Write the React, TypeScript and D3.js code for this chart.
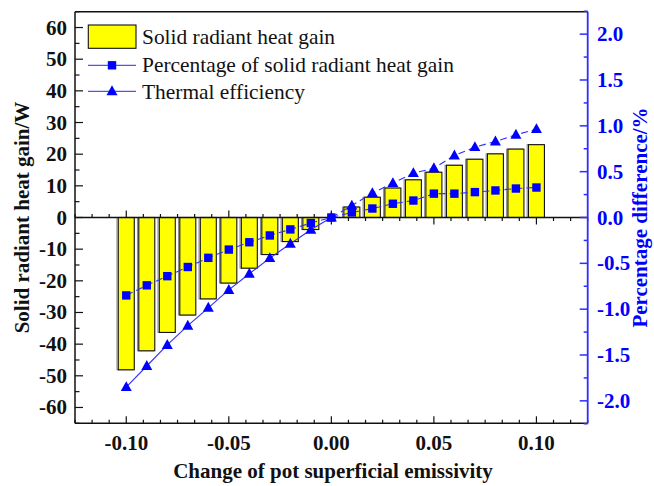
import React from "react";
import * as d3 from "d3";

// Change of pot superficial emissivity
const emissivityChange = [
  -0.1, -0.09, -0.08, -0.07, -0.06, -0.05, -0.04, -0.03, -0.02, -0.01, 0,
  0.01, 0.02, 0.03, 0.04, 0.05, 0.06, 0.07, 0.08, 0.09, 0.1,
];
// Solid radiant heat gain (W), left axis
const heatGain = [
  -48.1, -42.1, -36.3, -30.8, -25.7, -20.7, -16.0, -11.7, -7.6, -3.8, 0,
  3.3, 6.4, 9.3, 11.9, 14.3, 16.5, 18.4, 20.1, 21.6, 23.0,
];
// Percentage of solid radiant heat gain (%), right axis
const heatGainPct = [
  -0.85, -0.74, -0.64, -0.54, -0.44, -0.35, -0.27, -0.196, -0.13, -0.06, 0,
  0.055, 0.098, 0.15, 0.185, 0.26, 0.26, 0.277, 0.295, 0.316, 0.327,
];
// Thermal efficiency difference (%), right axis
const thermalEff = [
  -1.85, -1.62, -1.39, -1.18, -0.985, -0.79, -0.614, -0.443, -0.287, -0.134, 0,
  0.13, 0.266, 0.375, 0.484, 0.538, 0.676, 0.768, 0.829, 0.902, 0.964,
];

const leftTicks = [-60, -50, -40, -30, -20, -10, 0, 10, 20, 30, 40, 50, 60];
const rightTicks = [-2, -1.5, -1, -0.5, 0, 0.5, 1, 1.5, 2];
const xTicks = [-0.1, -0.05, 0, 0.05, 0.1];

const legendLabels = [
  "Solid radiant heat gain",
  "Percentage of solid radiant heat gain",
  "Thermal efficiency",
];

const W = 654;
const H = 486;
const L = 75;
const R = 587.7;
const T = 11.7;
const B = 423.3;

const FONT = "'Liberation Serif', 'Times New Roman', serif";
const BLUE = "#0000ff";
const AXIS_BLUE = "#2d2dff";
const LINE_BLUE = "#3030ff";

export default function App() {
  const x = d3.scaleLinear().domain([-0.125, 0.125]).range([L, R]);
  const yL = d3.scaleLinear().domain([-65, 65]).range([B, T]);
  const yR = d3.scaleLinear().domain([-2.245, 2.245]).range([B, T]);

  const step = x(0.01) - x(0);
  const barW = step * 0.78;
  const y0 = yL(0);

  const xMinor = d3.range(-15, 16).map((k) => k * (0.05 / 6));
  const leftMinor = d3.range(-65, 66, 5).filter((v) => v % 10 !== 0);
  const rightMinor = d3.range(-2.25, 2.26, 0.25).filter(
    (v) => Math.abs(v * 2 - Math.round(v * 2)) > 1e-6
  );

  const pctLine = d3
    .line<number>()
    .x((_, i) => x(emissivityChange[i]))
    .y((d) => yR(d));

  const effNeg = thermalEff.slice(0, 11);
  const effPos = thermalEff.slice(10);
  const effLineNeg = d3
    .line<number>()
    .x((_, i) => x(emissivityChange[i]))
    .y((d) => yR(d));
  const effLinePos = d3
    .line<number>()
    .x((_, i) => x(emissivityChange[i + 10]))
    .y((d) => yR(d));

  const tri = (cx: number, cy: number, s = 11) => {
    const h = s * 0.9;
    return `M${cx},${cy - h * 0.6}L${cx + s / 2},${cy + h * 0.4}L${cx - s / 2},${cy + h * 0.4}Z`;
  };

  const isMajorX = (v: number) => Math.abs(v / 0.05 - Math.round(v / 0.05)) < 1e-6;

  return (
    <svg
      width={W}
      height={H}
      style={{ position: "absolute", left: 0, top: 0, background: "#fff" }}
      fontFamily={FONT}
    >
      {/* bars */}
      {heatGain.map((v, i) => {
        if (v === 0) return null;
        const cx = x(emissivityChange[i]);
        const yTop = Math.min(yL(v), y0);
        const h = Math.abs(yL(v) - y0);
        return (
          <g key={"bar" + i}>
            <rect x={cx - barW / 2 - 1.3} y={yTop} width={barW} height={h} fill="none" stroke="#8a8a8a" strokeWidth={1} />
            <rect x={cx - barW / 2} y={yTop} width={barW} height={h} fill="#ffff00" stroke="#111" strokeWidth={1.1} />
          </g>
        );
      })}

      {/* frame */}
      <line x1={L} x2={R} y1={T} y2={T} stroke="#111" strokeWidth={1.5} />
      <line x1={L} x2={L} y1={T} y2={B} stroke="#111" strokeWidth={1.5} />
      <line x1={L} x2={R} y1={B} y2={B} stroke="#111" strokeWidth={1.5} />
      <line x1={L} x2={R} y1={y0} y2={y0} stroke="#111" strokeWidth={1.5} />

      {/* x ticks on bottom axis and on the zero line */}
      {xMinor.map((v, i) => {
        const px = x(v);
        const major = isMajorX(v);
        const len = major ? 7 : 3.5;
        const zeroTicks =
          Math.abs(v) < 1e-9 ? (
            <line x1={px} x2={px} y1={y0 - len} y2={y0 + len} stroke="#111" strokeWidth={1.2} />
          ) : v < 0 ? (
            <line x1={px} x2={px} y1={y0} y2={y0 - len} stroke="#111" strokeWidth={1.2} />
          ) : (
            <line x1={px} x2={px} y1={y0} y2={y0 + len} stroke="#111" strokeWidth={1.2} />
          );
        return (
          <g key={"xt" + i}>
            <line x1={px} x2={px} y1={B} y2={B - len} stroke="#111" strokeWidth={1.2} />
            {zeroTicks}
          </g>
        );
      })}
      {xTicks.map((v) => (
        <text key={"xl" + v} x={x(v)} y={450} textAnchor="middle" fontSize={21} fontWeight="bold" fill="#111">
          {d3.format(".2f")(v).replace("−", "-")}
        </text>
      ))}

      {/* left axis ticks */}
      {leftTicks.map((v) => (
        <g key={"lt" + v}>
          <line x1={L} x2={L + 8} y1={yL(v)} y2={yL(v)} stroke="#111" strokeWidth={1.2} />
          <text x={67} y={yL(v) + 7} textAnchor="end" fontSize={21} fontWeight="bold" fill="#111">
            {String(v)}
          </text>
        </g>
      ))}
      {leftMinor.map((v) => (
        <line key={"lm" + v} x1={L} x2={L + 4.5} y1={yL(v)} y2={yL(v)} stroke="#111" strokeWidth={1.2} />
      ))}

      {/* right axis */}
      <line x1={R} x2={R} y1={T} y2={B} stroke={AXIS_BLUE} strokeWidth={1.8} />
      {rightTicks.map((v) => (
        <g key={"rt" + v}>
          <line x1={R} x2={R - 8} y1={yR(v)} y2={yR(v)} stroke={AXIS_BLUE} strokeWidth={1.5} />
          <text x={597} y={yR(v) + 7} textAnchor="start" fontSize={21} fontWeight="bold" fill={BLUE}>
            {d3.format(".1f")(v).replace("−", "-")}
          </text>
        </g>
      ))}
      {rightMinor.map((v, i) => (
        <line key={"rm" + i} x1={R} x2={R - 4} y1={yR(v)} y2={yR(v)} stroke={AXIS_BLUE} strokeWidth={1.5} />
      ))}

      {/* series lines */}
      <path d={pctLine(heatGainPct) || ""} fill="none" stroke={LINE_BLUE} strokeWidth={1.1} strokeDasharray="7,4" />
      <path d={effLineNeg(effNeg) || ""} fill="none" stroke={LINE_BLUE} strokeWidth={1.1} />
      <path d={effLinePos(effPos) || ""} fill="none" stroke={LINE_BLUE} strokeWidth={1.1} strokeDasharray="7,4" />

      {/* markers */}
      {heatGainPct.map((v, i) => (
        <rect key={"sq" + i} x={x(emissivityChange[i]) - 4.2} y={yR(v) - 4.2} width={8.4} height={8.4} fill={BLUE} />
      ))}
      {thermalEff.map((v, i) => (
        <path key={"tr" + i} d={tri(x(emissivityChange[i]), yR(v))} fill={BLUE} />
      ))}

      {/* legend */}
      <rect x={88.3} y={25} width={47.7} height={23.3} fill="#ffff00" stroke="#111" strokeWidth={1.1} />
      <text x={142} y={44} fontSize={21.4} fill="#111">{legendLabels[0]}</text>
      <line x1={88} x2={136} y1={65.3} y2={65.3} stroke="#5050ff" strokeWidth={1.2} />
      <rect x={112 - 4.2} y={65.3 - 4.2} width={8.4} height={8.4} fill={BLUE} />
      <text x={142} y={72} fontSize={21.4} fill="#111">{legendLabels[1]}</text>
      <line x1={88} x2={136} y1={91.3} y2={91.3} stroke="#5050ff" strokeWidth={1.2} />
      <path d={tri(112, 91.3)} fill={BLUE} />
      <text x={142} y={98.5} fontSize={21.4} fill="#111">{legendLabels[2]}</text>

      {/* axis titles */}
      <text
        transform={`translate(29,${(T + B) / 2}) rotate(-90)`}
        textAnchor="middle"
        fontSize={21}
        fontWeight="bold"
        fill="#111"
      >
        Solid radiant heat gain/W
      </text>
      <text
        transform={`translate(647,${(T + B) / 2}) rotate(-90)`}
        textAnchor="middle"
        fontSize={21}
        fontWeight="bold"
        fill={BLUE}
      >
        Percentage difference/%
      </text>
      <text x={333} y={478} textAnchor="middle" fontSize={21} fontWeight="bold" fill="#111">
        Change of pot superficial emissivity
      </text>
    </svg>
  );
}
